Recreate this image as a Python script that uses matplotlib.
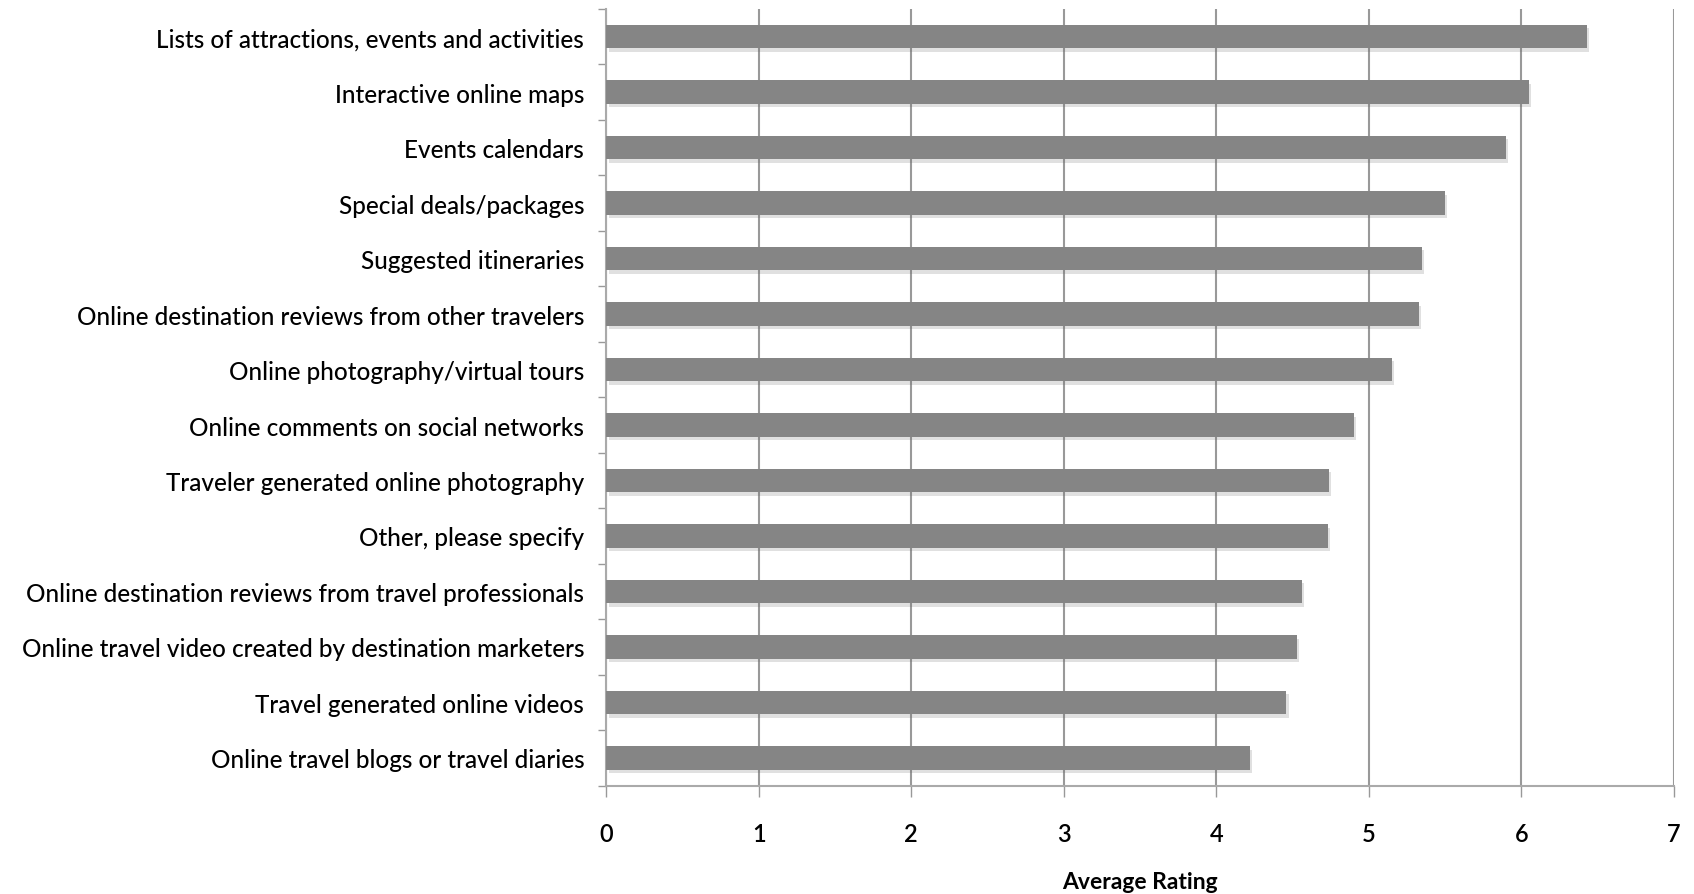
import matplotlib.pyplot as plt
import matplotlib.patheffects as pe
from matplotlib.ticker import MultipleLocator

# Data (top to bottom)
categories = [
    "Lists of attractions, events and activities",
    "Interactive online maps",
    "Events calendars",
    "Special deals/packages",
    "Suggested itineraries",
    "Online destination reviews from other travelers",
    "Online photography/virtual tours",
    "Online comments on social networks",
    "Traveler generated online photography",
    "Other, please specify",
    "Online destination reviews from travel professionals",
    "Online travel video created by destination marketers",
    "Travel generated online videos",
    "Online travel blogs or travel diaries",
]
ratings = [6.43, 6.05, 5.90, 5.50, 5.35, 5.33, 5.15, 4.90, 4.74, 4.73, 4.56, 4.53, 4.46, 4.22]

plt.rcParams['font.family'] = ['Lato', 'DejaVu Sans']

fig = plt.figure(figsize=(16.94, 8.95), dpi=100)
ax = fig.add_axes([0.358, 0.121, 0.630, 0.868])

ypos = list(range(len(categories)))[::-1]
bars = ax.barh(ypos, ratings, height=0.42, color='#858585', zorder=3)
for b in bars:
    b.set_path_effects([pe.SimplePatchShadow(offset=(1.5, -2.5), alpha=0.2, shadow_rgbFace='#666666'), pe.Normal()])

ax.set_xlim(0, 7)
ax.set_ylim(-0.5, len(categories) - 0.5)
ax.xaxis.set_major_locator(MultipleLocator(1))
ax.set_yticks(ypos)
ax.set_yticklabels(categories, fontsize=17.5, fontweight='medium')
ax.set_yticks([y + 0.5 for y in range(len(categories))] + [-0.5], minor=True)
ax.tick_params(axis='y', which='major', length=0, pad=16)
ax.tick_params(axis='y', which='minor', length=6, color='#999999', width=1)
ax.tick_params(axis='x', length=8, color='#999999', width=1, labelsize=17, pad=18)
for t in ax.get_xticklabels():
    t.set_fontweight('semibold')

ax.grid(axis='x', color='#999999', linewidth=1.5, zorder=0)
for s in ['top', 'right']:
    ax.spines[s].set_visible(False)
for s in ['left', 'bottom']:
    ax.spines[s].set_color('#aaaaaa')
    ax.spines[s].set_linewidth(1.5)

ax.set_xlabel("Average Rating", fontsize=16.5, fontweight='bold', labelpad=19)

fig.savefig("out.png", dpi=100)
